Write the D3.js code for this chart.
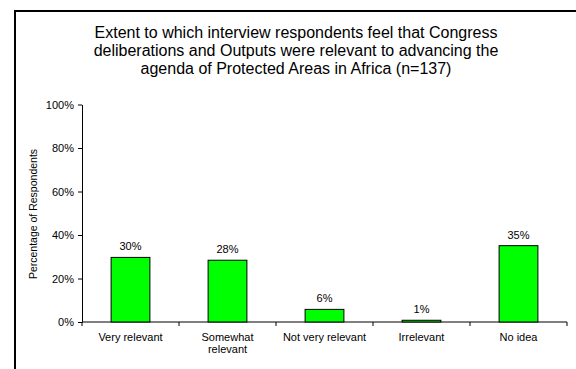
<!DOCTYPE html>
<html>
<head>
<meta charset="utf-8">
<script src="https://cdn.jsdelivr.net/npm/d3@7/dist/d3.min.js"></script>
<style>
  body { margin: 0; background: #fff; }
  svg text { font-family: "Liberation Sans", Arial, sans-serif; fill: #000; }
</style>
</head>
<body>
<svg id="chart" width="576" height="369"></svg>
<script>
// data
var categories = [["Very relevant"], ["Somewhat", "relevant"], ["Not very relevant"], ["Irrelevant"], ["No idea"]];
var values = [0.297, 0.284, 0.058, 0.008, 0.351];
var yTicks = [0, 0.2, 0.4, 0.6, 0.8, 1.0];
var titleLines = [
  "Extent to which interview respondents feel that Congress",
  "deliberations and Outputs were relevant to advancing the",
  "agenda of Protected Areas in Africa (n=137)"
];

var svg = d3.select("#chart");

// outer frame (only top and left edges show)
svg.append("path")
    .attr("d", "M15,369V11H576")
    .attr("fill", "none")
    .attr("stroke", "#000")
    .attr("stroke-width", 2);

// title
svg.append("text")
    .attr("text-anchor", "middle")
    .attr("font-size", 16)
    .selectAll("tspan")
    .data(titleLines)
    .enter().append("tspan")
      .attr("x", 296)
      .attr("y", function(d, i) { return 38 + i * 18; })
      .text(function(d) { return d; });

var plotLeft = 82, plotRight = 567, plotTop = 104.5, plotBottom = 322;

var x = d3.scaleBand()
    .domain(d3.range(categories.length))
    .range([plotLeft, plotRight])
    .padding(0);

var y = d3.scaleLinear()
    .domain([0, 1])
    .range([plotBottom, plotTop]);

var fmt = d3.format(".0%");

// y axis
var yAxis = svg.append("g")
    .attr("transform", "translate(" + plotLeft + ",0)")
    .call(d3.axisLeft(y).tickValues(yTicks).tickFormat(fmt).tickSizeInner(4).tickSizeOuter(0));
yAxis.selectAll("text").attr("font-size", 11).attr("font-family", null).attr("dx", "-1");
yAxis.selectAll("line, path").attr("stroke", "#000");

// x axis
var xAxis = svg.append("g")
    .attr("transform", "translate(0," + plotBottom + ")");
xAxis.append("line")
    .attr("x1", plotLeft).attr("x2", plotRight)
    .attr("y1", 0).attr("y2", 0)
    .attr("stroke", "#000");
xAxis.selectAll(".tick")
    .data(d3.range(categories.length + 1))
    .enter().append("line")
      .attr("class", "tick")
      .attr("x1", function(i) { return i < categories.length ? x(i) : plotRight; })
      .attr("x2", function(i) { return i < categories.length ? x(i) : plotRight; })
      .attr("y1", 0).attr("y2", 4)
      .attr("stroke", "#000");

// category labels
svg.selectAll(".cat")
    .data(categories)
    .enter().append("text")
      .attr("class", "cat")
      .attr("text-anchor", "middle")
      .attr("font-size", 11)
      .each(function(d, i) {
        d3.select(this).selectAll("tspan")
          .data(d)
          .enter().append("tspan")
            .attr("x", x(i) + x.bandwidth() / 2)
            .attr("y", function(t, j) { return 341 + j * 12; })
            .text(function(t) { return t; });
      });

// y axis title
svg.append("text")
    .attr("transform", "translate(37," + 214 + ") rotate(-90)")
    .attr("text-anchor", "middle")
    .attr("font-size", 10.5)
    .text("Percentage of Respondents");

// bars
var barW = x.bandwidth() * 0.4;
svg.selectAll(".bar")
    .data(values)
    .enter().append("rect")
      .attr("class", "bar")
      .attr("x", function(d, i) { return x(i) + (x.bandwidth() - barW) / 2; })
      .attr("y", function(d) { return y(d); })
      .attr("width", barW)
      .attr("height", function(d) { return plotBottom - y(d); })
      .attr("fill", "#00ff00")
      .attr("stroke", "#000")
      .attr("stroke-width", 1);

// value labels
svg.selectAll(".val")
    .data(values)
    .enter().append("text")
      .attr("class", "val")
      .attr("text-anchor", "middle")
      .attr("font-size", 11)
      .attr("x", function(d, i) { return x(i) + x.bandwidth() / 2; })
      .attr("y", function(d) { return y(d) - 7; })
      .text(function(d) { return fmt(d); });
</script>
</body>
</html>
